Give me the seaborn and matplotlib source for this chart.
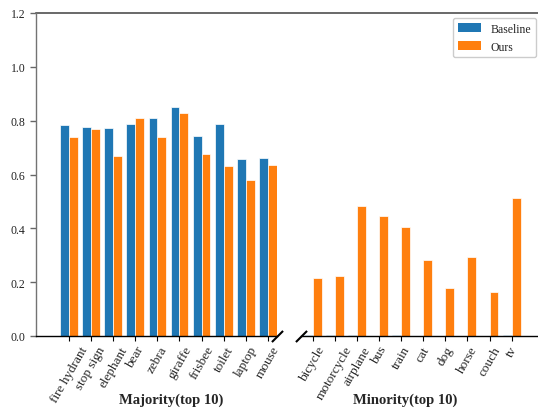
import numpy as np
import pandas as pd
import matplotlib
matplotlib.use("Agg")
import matplotlib.pyplot as plt
from matplotlib.patches import Patch
import seaborn as sns

# Per-class scores, most frequent classes
majority_classes = ["fire hydrant", "stop sign", "elephant", "bear", "zebra",
                    "giraffe", "frisbee", "toilet", "laptop", "mouse"]
majority_baseline = [0.785, 0.778, 0.773, 0.789, 0.811, 0.851, 0.744, 0.789, 0.659, 0.663]
majority_ours = [0.741, 0.769, 0.670, 0.811, 0.741, 0.827, 0.676, 0.631, 0.578, 0.634]

# Per-class scores, least frequent classes
minority_classes = ["bicycle", "motorcycle", "airplane", "bus", "train",
                    "cat", "dog", "horse", "couch", "tv"]
minority_baseline = [0.004, 0.004, 0.004, 0.0, 0.004, 0.0, 0.0, 0.0, 0.0, 0.004]
minority_ours = [0.215, 0.223, 0.483, 0.447, 0.405, 0.283, 0.179, 0.295, 0.165, 0.511]

methods = ["Baseline", "Ours"]
colors = ["#1f77b4", "#ff7f0e"]
y_ticks = [0.0, 0.2, 0.4, 0.6, 0.8, 1.0, 1.2]


def long_frame(classes, baseline, ours):
    n = len(classes)
    return pd.DataFrame({
        "class": list(classes) * 2,
        "method": [methods[0]] * n + [methods[1]] * n,
        "value": list(baseline) + list(ours),
    })


sns.set_style("ticks")
plt.rcParams["font.family"] = ["Liberation Serif", "DejaVu Serif"]

W, H = 538, 410
fig = plt.figure(figsize=(W / 100, H / 100), dpi=100)


def px_axes(left, top, right, bottom):
    return fig.add_axes([left / W, 1 - bottom / H, (right - left) / W, (bottom - top) / H])


# Shared frame carrying the continuous top border over both panels
frame = px_axes(36, 14, 543, 337)
frame.patch.set_visible(False)
frame.set_xticks([])
frame.set_yticks([])
for side in ["left", "right", "bottom"]:
    frame.spines[side].set_visible(False)
frame.spines["top"].set_color("0.25")
frame.spines["top"].set_linewidth(1.1)

ax1 = px_axes(36, 14, 277, 337)
ax2 = px_axes(301, 14, 542, 337)

panels = [
    (ax1, long_frame(majority_classes, majority_baseline, majority_ours), majority_classes,
     "Majority(top 10)", (-1.49, 9.41), 0.56),
    (ax2, long_frame(minority_classes, minority_baseline, minority_ours), minority_classes,
     "Minority(top 10)", (-0.53, 10.37), 0.4315),
]

for ax, df, classes, label, xlim, label_x in panels:
    ax.patch.set_visible(False)
    sns.barplot(data=df, x="class", y="value", hue="method", hue_order=methods,
                palette=colors, width=0.8, saturation=1, edgecolor="white",
                linewidth=0.5, legend=False, ax=ax)
    ax.set_xlim(*xlim)
    ax.set_ylim(0, 1.2)
    ax.set_xticks(range(len(classes)))
    ax.set_xticklabels(classes, rotation=60, ha="center", fontsize=9.5)
    ax.tick_params(axis="x", length=3.5, width=0.8, color="black", pad=2)
    ax.set_ylabel("")
    ax.set_xlabel(label, fontsize=10.5, fontweight="bold")
    ax.xaxis.set_label_coords(label_x, -0.176)
    ax.spines["top"].set_visible(False)
    ax.spines["right"].set_visible(False)
    ax.spines["bottom"].set_color("black")
    ax.spines["bottom"].set_linewidth(1.0)

ax1.set_yticks(y_ticks)
ax1.set_yticklabels([f"{v:.1f}" for v in y_ticks])
ax1.tick_params(axis="y", length=4, width=1, color="0.4", labelsize=8.5, labelcolor="#222222")
ax1.spines["left"].set_color("0.45")
ax1.spines["left"].set_linewidth(1.0)

ax2.spines["left"].set_visible(False)
ax2.tick_params(axis="y", left=False, labelleft=False)

# Diagonal break marks where the axis is split
brk = dict(marker=[(-1, -1), (1, 1)], markersize=8, linestyle="none",
           color="k", mec="k", mew=1.5, clip_on=False)
ax1.plot([1], [0], transform=ax1.transAxes, **brk)
ax2.plot([0], [0], transform=ax2.transAxes, **brk)

handles = [Patch(facecolor=c, edgecolor="none", label=m) for m, c in zip(methods, colors)]
ax2.legend(handles=handles, loc="upper left", bbox_to_anchor=(453 / W, 1 - 19 / H),
           bbox_transform=fig.transFigure, borderaxespad=0, fontsize=8.5,
           frameon=True, fancybox=True, edgecolor="0.8", framealpha=1)

fig.savefig("out.png", dpi=100)
